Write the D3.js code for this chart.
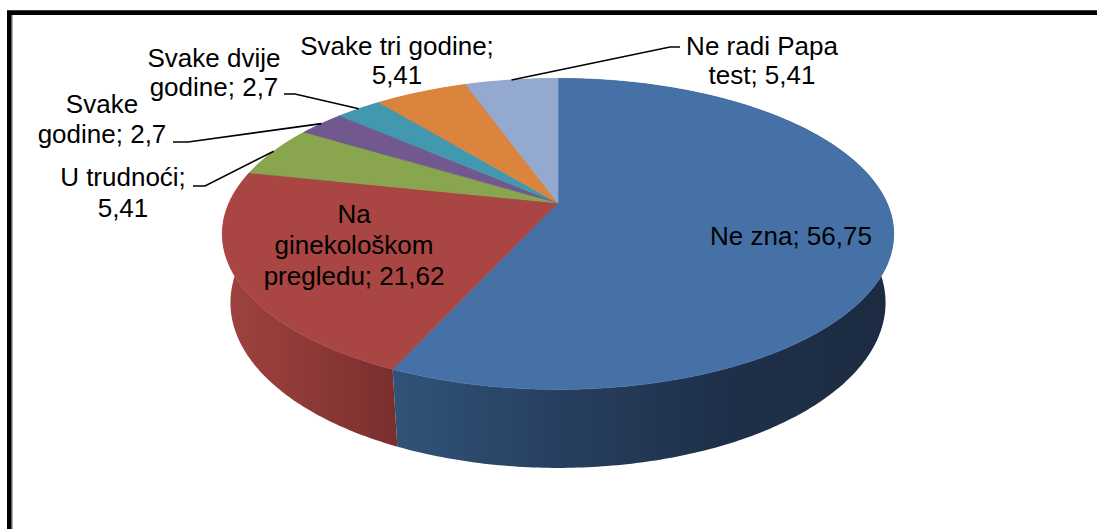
<!DOCTYPE html>
<html>
<head>
<meta charset="utf-8">
<script src="https://cdn.jsdelivr.net/npm/d3@7"></script>
<style>
  html, body { margin: 0; padding: 0; background: #fff; }
  svg { display: block; }
  text { font-family: "Liberation Sans", Arial, sans-serif; font-size: 26px; fill: #000; }
</style>
</head>
<body>
<svg id="chart" width="1097" height="529"></svg>
<script>
// ---- data ----
const categories = ["Ne zna", "Na ginekološkom pregledu", "U trudnoći", "Svake godine", "Svake dvije godine", "Svake tri godine", "Ne radi Papa test"];
const values = [56.75, 21.62, 5.41, 2.7, 2.7, 5.41, 5.41];
const valueLabels = ["56,75", "21,62", "5,41", "2,7", "2,7", "5,41", "5,41"];
// label text as wrapped in the chart
const labelLines = [
  ["Ne zna; 56,75"],
  ["Na", "ginekološkom", "pregledu; 21,62"],
  ["U trudnoći;", "5,41"],
  ["Svake", "godine; 2,7"],
  ["Svake dvije", "godine; 2,7"],
  ["Svake tri godine;", "5,41"],
  ["Ne radi Papa", "test; 5,41"]
];
const topColors = ["#4571A6", "#A94542", "#89A54E", "#71588F", "#4198AF", "#DB843D", "#93A9CF"];
const sideStops = [
  ["#305379", "#273f5f", "#1e3049", "#1c2b41"],
  ["#9e423f", "#943d3a", "#873634", "#7a2f2f"],
  ["#6d843d", "#6d843d", "#6d843d", "#6d843d"],
  ["#5a4672", "#5a4672", "#5a4672", "#5a4672"],
  ["#33798c", "#33798c", "#33798c", "#33798c"],
  ["#af6a31", "#af6a31", "#af6a31", "#af6a31"],
  ["#7587a5", "#7587a5", "#7587a5", "#7587a5"]
];

// ---- layout (positions) ----
const cx = 558, cy = 203, S = 329;
const sinE = 0.454, cosE = Math.sqrt(1 - sinE * sinE), F = 4.48, H = 0.236;
const labelLayout = [
  { x: 791, y: 245, dy: 30, leader: null },
  { x: 354, y: 223, dy: 31, leader: null },
  { x: 123, y: 186, dy: 31, leader: [[193, 186], [205, 186]] },
  { x: 102, y: 113, dy: 30, leader: [[173, 142], [188, 142]] },
  { x: 214, y: 67, dy: 29, leader: [[284, 94], [295, 94]] },
  { x: 397, y: 55, dy: 29, leader: null },
  { x: 762, y: 55, dy: 29, leader: [[680, 47], [670, 47]] }
];

function proj(theta, y) {
  const X = Math.sin(theta), Z = -Math.cos(theta);
  const up = y * cosE - Z * sinE;
  const tow = Z * cosE + y * sinE;
  const k = F / (F - tow);
  return [cx + S * X * k, cy - S * up * k];
}

const svg = d3.select("#chart");
const defs = svg.append("defs");

const arcs = d3.pie().sort(null).startAngle(0).endAngle(2 * Math.PI)(values);

// side gradients
arcs.forEach((a, i) => {
  // horizontal extent of the slice's wall
  const xs = d3.range(0, 41).map(t => proj(a.startAngle + (a.endAngle - a.startAngle) * t / 40, 0)[0]);
  const g = defs.append("linearGradient").attr("id", "side" + i)
    .attr("gradientUnits", "userSpaceOnUse")
    .attr("x1", d3.min(xs)).attr("x2", d3.max(xs)).attr("y1", 0).attr("y2", 0);
  sideStops[i].forEach((c, j) => g.append("stop").attr("offset", j / 3).attr("stop-color", c));
});

const line = d3.line();
function arcPoints(a0, a1, y, n) {
  return d3.range(0, n + 1).map(t => proj(a0 + (a1 - a0) * t / n, y));
}

// walls (outer cylinder)
const gWalls = svg.append("g");
arcs.forEach((a, i) => {
  const n = Math.max(8, Math.ceil((a.endAngle - a.startAngle) * 80));
  const top = arcPoints(a.startAngle, a.endAngle, 0, n);
  const bot = arcPoints(a.startAngle, a.endAngle, -H, n).reverse();
  gWalls.append("path").attr("d", line(top.concat(bot)) + "Z")
    .attr("fill", `url(#side${i})`);
});

// top faces
const gTop = svg.append("g");
arcs.forEach((a, i) => {
  const n = Math.max(8, Math.ceil((a.endAngle - a.startAngle) * 80));
  const pts = [proj(0, 0).length ? [cx, cy] : [cx, cy]].concat(arcPoints(a.startAngle, a.endAngle, 0, n));
  gTop.append("path").attr("d", line(pts) + "Z")
    .attr("fill", topColors[i]).attr("stroke", topColors[i]).attr("stroke-width", 0.6);
});

// leader lines
const gLead = svg.append("g");
arcs.forEach((a, i) => {
  const L = labelLayout[i];
  if (!L.leader) return;
  const mid = (a.startAngle + a.endAngle) / 2;
  const rim = proj(mid, 0);
  gLead.append("path").attr("d", line([L.leader[0], L.leader[1], rim]))
    .attr("fill", "none").attr("stroke", "#000").attr("stroke-width", 1.6);
});

// labels
const gLab = svg.append("g");
labelLines.forEach((lines, i) => {
  const L = labelLayout[i];
  const t = gLab.append("text").attr("text-anchor", "middle");
  lines.forEach((s, j) => t.append("tspan").attr("x", L.x).attr("y", L.y + j * L.dy).text(s));
});

// frame
svg.append("line").attr("x1", 12.3).attr("x2", 12.3).attr("y1", 15).attr("y2", 529)
  .attr("stroke", "#9a9a9a").attr("stroke-width", 1);
svg.append("path").attr("d", "M9.3,529 L9.3,12.6 L1097,12.6")
  .attr("fill", "none").attr("stroke", "#000").attr("stroke-width", 4.6);
</script>
</body>
</html>
